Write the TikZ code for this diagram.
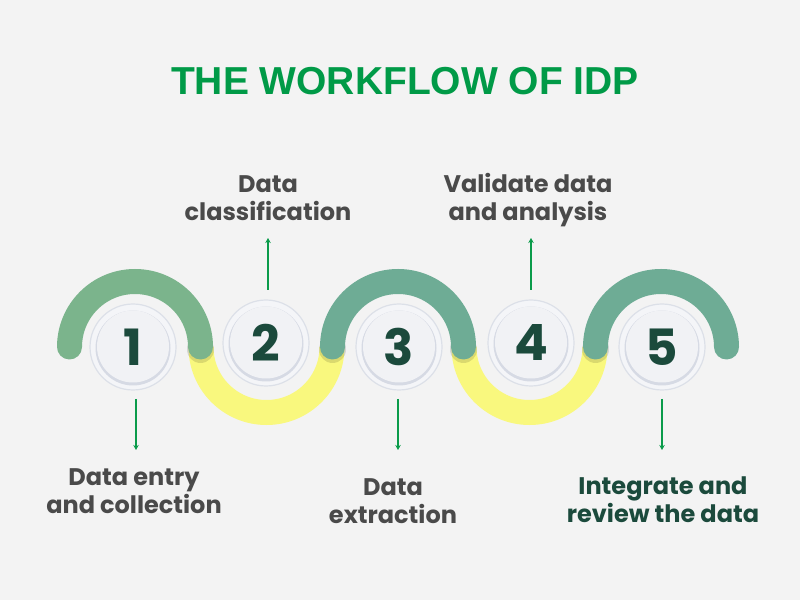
\documentclass[tikz,border=0pt]{standalone}
\usepackage{fontspec}
\setmainfont{Poppins}
\newfontfamily\titlefont{Liberation Sans}
\usetikzlibrary{arrows.meta}
\definecolor{bg}{HTML}{F3F3F3}
\definecolor{greenA}{HTML}{7BB48C}
\definecolor{greenB}{HTML}{6EAC95}
\definecolor{yell}{HTML}{F9F87E}
\definecolor{titlec}{HTML}{009A47}
\definecolor{labelc}{HTML}{4A4A4A}
\definecolor{darkc}{HTML}{1B4A3C}
\definecolor{arrc}{HTML}{0A9B4A}
\definecolor{ringfill}{HTML}{F4F5F8}
\definecolor{ringedge}{HTML}{DCE0E8}
\definecolor{innerfill}{HTML}{F1F2F5}
\definecolor{inneredge}{HTML}{D6DAE4}
\tikzset{
  yarc/.style={draw=yell, line width=25pt},
  garc/.style={line width=25pt, line cap=round},
  endshadow/.style={fill=black, opacity=0.12},
  numcircle/.style={circle, minimum size=86pt, inner sep=0pt, fill=ringfill,
    draw=ringedge, line width=1.2pt, text=darkc,
    font=\fontsize{50}{50}\selectfont\bfseries,
    path picture={
      \fill[inneredge] ([yshift=-1pt]path picture bounding box.center) circle (37.5pt);
      \fill[innerfill] ([yshift=0.5pt]path picture bounding box.center) circle (36pt);
    }},
  lbl/.style={align=center, text=labelc, inner sep=0pt,
    font=\fontsize{24}{28}\selectfont\bfseries},
  arr/.style={draw=arrc, line width=1.5pt, -{Stealth[length=5pt,width=5.5pt]}}
}
\begin{document}
\begin{tikzpicture}[x=1pt,y=1pt]
\fill[bg] (0,0) rectangle (800,600);
\useasboundingbox (0,0) rectangle (800,600);

% title
\node[text=titlec, font=\titlefont\fontsize{39}{40}\selectfont\bfseries, anchor=base] (title) at (405,505) {THE WORKFLOW OF IDP};

% yellow arcs (bottom)
\draw[yarc] (201,253) arc[start angle=180, end angle=360, radius=65.5pt];
\draw[yarc] (464,253) arc[start angle=180, end angle=360, radius=65.5pt];

% shadows under green ends
\fill[endshadow] (200.5,250.5) circle (13.5pt);
\fill[endshadow] (332.5,250.5) circle (13.5pt);
\fill[endshadow] (463.5,250.5) circle (13.5pt);
\fill[endshadow] (595.5,250.5) circle (13.5pt);

% green arcs (top)
\draw[garc, draw=greenA] (69.5,253) arc[start angle=180, end angle=0, radius=65.5pt];
\draw[garc, draw=greenB] (332.5,253) arc[start angle=180, end angle=0, radius=65.5pt];
\draw[garc, draw=greenB] (595.5,253) arc[start angle=180, end angle=0, radius=65.5pt];

% number circles
\node[numcircle] (n1) at (133,253) {1};
\node[numcircle] (n2) at (266,257) {2};
\node[numcircle] (n3) at (399,253) {3};
\node[numcircle] (n4) at (531,257) {4};
\node[numcircle] (n5) at (662,253) {5};

% arrows
\coordinate (a1s) at (136,201); \coordinate (a1e) at (136,150);
\coordinate (a2s) at (268,310); \coordinate (a2e) at (268,362);
\coordinate (a3s) at (398,201); \coordinate (a3e) at (398,150);
\coordinate (a4s) at (531,310); \coordinate (a4e) at (531,362);
\coordinate (a5s) at (662,201); \coordinate (a5e) at (662,150);
\draw[arr] (a1s) -- (a1e);
\draw[arr] (a2s) -- (a2e);
\draw[arr] (a3s) -- (a3e);
\draw[arr] (a4s) -- (a4e);
\draw[arr] (a5s) -- (a5e);

% labels (base anchor = baseline of last line)
\node[lbl, anchor=base] (l1) at (134,87) {Data entry\\and collection};
\node[lbl, anchor=base] (l2) at (268,379) {Data\\classification};
\node[lbl, anchor=base] (l3) at (393,77) {Data\\extraction};
\node[lbl, anchor=base] (l4) at (528,379) {Validate data\\and analysis};
\node[lbl, anchor=base, text=darkc] (l5) at (663,78) {Integrate and\\review the data};
\end{tikzpicture}
\end{document}
